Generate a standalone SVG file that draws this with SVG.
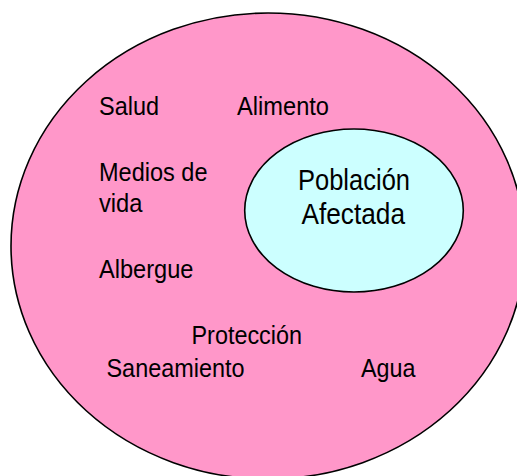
<svg xmlns="http://www.w3.org/2000/svg" width="517" height="476" viewBox="0 0 517 476">
  <style>
    .lbl { font-family: "Liberation Sans", Arial, sans-serif; font-size: 26px; fill: #000; }
    .big { font-size: 29px; }
  </style>
  <rect width="517" height="476" fill="#ffffff"/>
  <g id="outer">
    <ellipse cx="268" cy="246" rx="257" ry="233" fill="#ff97c9" stroke="#000" stroke-width="1.6"/>
  </g>
  <g id="inner">
    <ellipse cx="354" cy="210.5" rx="109.3" ry="81.5" fill="#ccffff" stroke="#000" stroke-width="1.6"/>
    <text class="lbl big" x="298" y="190" textLength="112" lengthAdjust="spacingAndGlyphs">Población</text>
    <text class="lbl big" x="301.5" y="224" textLength="103.5" lengthAdjust="spacingAndGlyphs">Afectada</text>
  </g>
  <g id="connectors"></g>
  <g id="labels">
    <text id="salud" class="lbl" x="99" y="115" textLength="60" lengthAdjust="spacingAndGlyphs">Salud</text>
    <text id="alimento" class="lbl" x="237" y="115" textLength="92" lengthAdjust="spacingAndGlyphs">Alimento</text>
    <text id="medios1" class="lbl" x="99" y="181" textLength="108.5" lengthAdjust="spacingAndGlyphs">Medios de</text>
    <text id="medios2" class="lbl" x="99" y="211.5" textLength="43.5" lengthAdjust="spacingAndGlyphs">vida</text>
    <text id="albergue" class="lbl" x="99" y="278" textLength="94.5" lengthAdjust="spacingAndGlyphs">Albergue</text>
    <text id="proteccion" class="lbl" x="191.5" y="344" textLength="110.5" lengthAdjust="spacingAndGlyphs">Protección</text>
    <text id="saneamiento" class="lbl" x="106.5" y="376.7" textLength="138" lengthAdjust="spacingAndGlyphs">Saneamiento</text>
    <text id="agua" class="lbl" x="361" y="376.7" textLength="54.5" lengthAdjust="spacingAndGlyphs">Agua</text>
  </g>
</svg>
